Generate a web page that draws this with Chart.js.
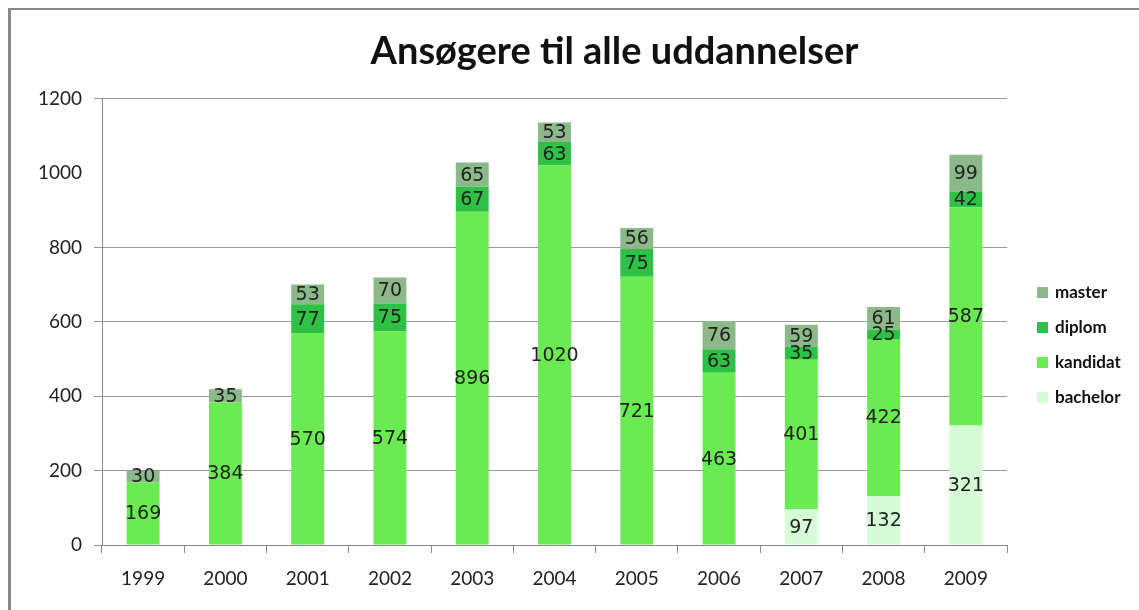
<!DOCTYPE html>
<html>
<head>
<meta charset="utf-8">
<script src="https://cdn.jsdelivr.net/npm/chart.js@4.4.1/dist/chart.umd.min.js"></script>
<style>
  html, body { margin: 0; padding: 0; background: #fff; }
  #wrap { position: relative; width: 1139px; height: 610px; overflow: hidden; }
  #frame { position: absolute; left: 8px; top: 8px; right: 0; bottom: -10px;
           border-top: 2px solid #8a8a8a; border-left: 3px solid #8a8a8a; }
  #c { position: absolute; left: 0; top: 0; }
</style>
</head>
<body>
<div id="wrap">
  <div id="frame"></div>
  <canvas id="c" width="1139" height="610"></canvas>
</div>
<script>
const years = ['1999', '2000', '2001', '2002', '2003', '2004', '2005', '2006', '2007', '2008', '2009'];
const bachelor = [0, 0, 0, 0, 0, 0, 0, 0, 97, 132, 321];
const kandidat = [169, 384, 570, 574, 896, 1020, 721, 463, 401, 422, 587];
const diplom = [0, 0, 77, 75, 67, 63, 75, 63, 35, 25, 42];
const master = [30, 35, 53, 70, 65, 53, 56, 76, 59, 61, 99];
const hiddenGridAt = 1000; // no gridline at 1000 in the original

const colors = {
  bachelor: '#d5fcd5',
  kandidat: '#6aeb52',
  diplom: '#2fc146',
  master: '#8cb98a'
};

function isHidden(c) {
  return !!(c && c.tick && Number(c.tick.value) === hiddenGridAt);
}

// value labels in the middle of every segment
const segLabels = {
  id: 'segLabels',
  afterDatasetsDraw(chart) {
    const ctx = chart.ctx;
    ctx.save();
    ctx.font = '19px "DejaVu Sans"';
    ctx.fillStyle = '#222';
    ctx.textAlign = 'center';
    ctx.textBaseline = 'middle';
    chart.data.datasets.forEach((ds, i) => {
      const meta = chart.getDatasetMeta(i);
      meta.data.forEach((bar, j) => {
        const v = ds.data[j];
        if (!v) return;
        ctx.fillText(String(v), bar.x, (bar.y + bar.base) / 2 + 1);
      });
    });
    ctx.restore();
  }
};

// legend on the right, top to bottom = last dataset first
const sideLegend = {
  id: 'sideLegend',
  afterDraw(chart) {
    const ctx = chart.ctx;
    const items = chart.data.datasets.slice().reverse();
    ctx.save();
    ctx.font = 'bold 17px Lato';
    ctx.textBaseline = 'middle';
    ctx.textAlign = 'left';
    items.forEach((ds, k) => {
      const y = 293 + k * 35;
      ctx.fillStyle = ds.backgroundColor;
      ctx.fillRect(1037, y - 6, 11, 11);
      ctx.fillStyle = '#111';
      ctx.fillText(ds.label, 1055, y);
    });
    ctx.restore();
  }
};

// move the title a little to the right, as in the original
const titleShift = {
  id: 'titleShift',
  afterLayout(chart) {
    const t = chart.titleBlock;
    if (t) { t.left += 106; t.right += 106; }
  }
};

new Chart(document.getElementById('c'), {
  type: 'bar',
  data: {
    labels: years,
    datasets: [
      { label: 'bachelor', data: bachelor, backgroundColor: colors.bachelor },
      { label: 'kandidat', data: kandidat, backgroundColor: colors.kandidat },
      { label: 'diplom', data: diplom, backgroundColor: colors.diplom },
      { label: 'master', data: master, backgroundColor: colors.master }
    ]
  },
  options: {
    responsive: false,
    animation: false,
    layout: { padding: { left: 10, right: 132, top: 0, bottom: 0 } },
    datasets: { bar: { categoryPercentage: 1, barPercentage: 0.4 } },
    plugins: {
      legend: { display: false },
      tooltip: { enabled: false },
      title: {
        display: true,
        text: 'Ansøgere til alle uddannelser',
        color: '#111',
        font: { family: 'Lato', weight: 'bold', size: 38 },
        padding: { top: 29, bottom: 24 }
      }
    },
    scales: {
      x: {
        stacked: true,
        grid: { drawOnChartArea: false, color: '#888', tickLength: 8 },
        border: { color: '#888' },
        ticks: { color: '#222', font: { family: 'Lato', size: 19 }, padding: 14 },
        afterFit(s) { s.height = 65; }
      },
      y: {
        stacked: true,
        min: 0,
        max: 1200,
        ticks: {
          stepSize: 200,
          color: '#222',
          font: { family: 'Lato', size: 19 },
          padding: 12,
          callback: v => String(v)
        },
        grid: {
          color: c => isHidden(c) ? '#ffffff' : '#999',
          tickColor: c => isHidden(c) ? '#ffffff' : '#999',
          lineWidth: c => isHidden(c) ? 0 : 1,
          tickLength: 8
        },
        border: { color: '#888' },
        afterFit(s) { s.width = 92; }
      }
    }
  },
  plugins: [segLabels, sideLegend, titleShift]
});
</script>
</body>
</html>
